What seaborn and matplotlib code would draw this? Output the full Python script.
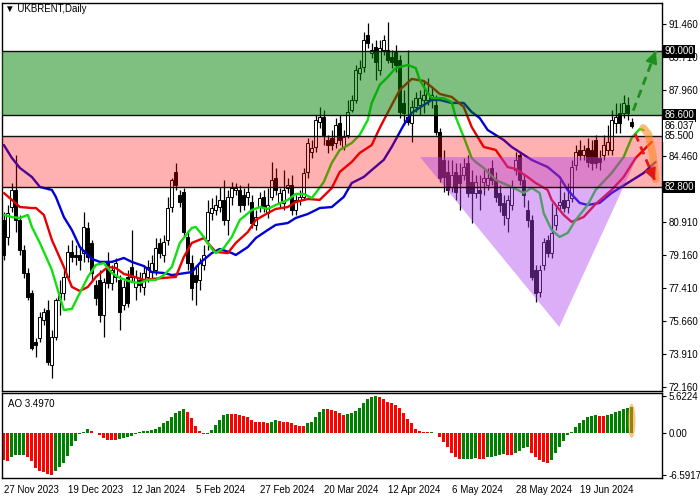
import numpy as np
import pandas as pd
import matplotlib
matplotlib.use("Agg")
import matplotlib.pyplot as plt
from matplotlib.patches import Ellipse
import seaborn as sns

# ---------------- data ----------------
open_p = [81.03,80.13,81.72,82.63,81.03,79.43,78.21,77.15,74.54,74.75,
 75.71,76.24,73.31,74.80,76.77,77.15,78.00,79.33,79.17,79.17,
 79.27,80.61,79.81,77.57,77.84,75.98,78.80,77.68,78.00,77.84,
 76.51,78.00,78.53,77.47,77.84,77.47,78.00,78.27,78.37,79.81,
 79.17,79.97,81.72,83.59,82.36,82.52,80.13,78.74,78.11,77.84,
 78.64,79.97,81.40,81.56,81.72,82.10,81.03,82.26,82.63,82.63,
 82.36,82.26,81.99,80.77,81.72,82.26,81.40,82.26,83.27,81.99,
 81.94,82.74,82.90,81.56,82.10,82.26,83.59,84.65,84.92,86.25,
 86.51,85.29,85.40,85.13,86.20,84.92,85.56,86.89,87.42,88.86,
 89.17,90.88,89.92,90.24,89.01,90.08,90.08,89.71,89.97,89.55,
 87.26,86.51,86.20,87.05,87.15,87.42,87.42,87.42,87.15,85.72,
 84.23,83.59,82.79,83.59,83.43,83.43,84.07,83.05,82.47,82.63,
 83.05,82.90,83.80,83.16,82.47,81.94,81.14,81.83,83.69,84.49,
 83.16,81.56,81.03,78.37,77.20,78.64,79.97,79.27,80.77,81.83,
 82.10,81.72,82.20,83.96,84.76,84.49,84.86,84.76,85.29,84.33,
 84.49,84.76,84.76,86.20,86.73,86.73,87.15,86.25]
high_p = [81.46,81.83,83.00,84.49,81.30,79.70,78.48,77.31,74.75,76.14,
 76.35,76.77,75.18,76.88,77.84,78.37,79.70,79.97,79.70,79.54,
 81.46,80.93,79.97,77.84,78.37,77.95,79.33,78.64,79.01,78.11,
 77.84,78.37,80.50,78.37,78.27,78.64,78.90,79.17,80.07,80.07,
 80.23,82.26,83.27,84.07,82.63,82.74,80.50,79.17,78.64,79.01,
 79.70,82.10,82.20,82.36,82.79,83.16,82.63,83.05,83.00,82.90,
 82.74,83.00,82.36,81.56,82.52,82.63,82.74,84.12,83.80,82.74,
 83.69,83.27,83.43,82.36,82.63,83.80,85.39,85.29,86.62,87.05,
 86.89,85.56,85.82,86.46,86.62,85.82,87.42,87.68,89.28,89.55,
 91.04,91.52,90.45,90.61,90.61,90.88,91.57,90.08,90.35,89.81,
 87.95,90.08,87.42,87.84,87.95,88.48,88.59,88.06,87.68,85.93,
 84.76,84.23,84.23,84.07,84.07,84.33,84.49,83.69,83.43,83.43,
 83.69,83.80,84.23,83.59,82.90,82.36,82.36,83.16,84.65,84.65,
 83.43,82.10,81.30,78.64,78.64,80.07,80.23,81.94,81.83,83.16,
 82.52,83.00,84.23,85.02,85.29,85.02,85.40,85.29,85.56,84.76,
 85.56,86.09,86.89,87.26,87.26,87.68,87.58,86.46]
low_p = [78.90,79.70,81.46,80.39,79.17,77.95,76.77,74.11,73.74,74.54,
 75.44,73.31,72.62,74.65,76.00,76.77,77.84,78.80,78.64,78.37,
 78.80,78.80,77.84,76.51,75.60,74.80,77.41,77.31,77.73,75.18,
 76.24,76.40,77.73,76.77,77.20,77.04,77.73,77.95,78.11,79.01,
 78.80,79.70,81.46,82.63,81.72,80.18,78.37,76.77,76.51,77.31,
 78.37,79.43,81.03,81.30,81.46,80.77,80.23,81.83,82.36,81.46,
 81.56,81.83,80.61,80.50,81.46,81.46,81.14,82.10,82.36,81.72,
 81.56,82.47,81.30,81.30,81.83,82.10,83.27,84.33,84.65,85.93,
 85.02,84.60,84.76,84.86,85.02,84.76,85.40,86.78,87.26,88.48,
 88.91,90.19,89.65,88.48,88.75,89.81,89.39,89.12,88.91,86.46,
 86.09,86.09,85.18,86.78,86.62,86.73,87.15,86.99,85.56,83.05,
 82.52,82.36,82.52,82.10,81.56,83.16,82.26,80.87,82.20,81.56,
 82.36,82.63,82.90,81.99,81.46,80.77,80.39,81.56,83.43,82.90,
 81.72,80.66,77.84,76.67,76.93,78.37,79.06,79.01,80.50,81.56,
 81.46,81.40,81.99,83.69,84.23,84.23,83.85,83.69,83.80,83.69,
 84.23,84.49,84.49,85.66,85.66,86.46,86.35,85.93]
close_p = [79.17,81.40,82.63,81.03,79.43,78.21,76.93,74.22,74.38,75.87,
 76.14,73.47,74.80,76.77,77.15,78.00,79.33,79.06,79.06,78.90,
 80.66,79.06,78.21,76.88,75.98,77.73,77.68,78.37,78.74,76.14,
 77.47,76.61,78.00,78.00,77.57,78.21,78.53,78.74,79.54,79.27,
 79.86,81.67,83.16,82.90,81.99,80.39,78.74,77.41,77.73,78.74,
 79.17,81.46,81.67,81.83,82.10,81.03,82.26,82.74,82.74,81.83,
 81.83,82.52,80.87,81.19,82.20,81.72,81.83,83.16,82.63,82.47,
 82.63,82.90,81.56,82.10,82.26,83.53,85.13,84.86,86.35,86.51,
 85.56,85.02,85.02,86.09,85.29,85.45,86.78,87.42,89.01,89.12,
 90.61,90.45,90.08,89.44,90.19,90.61,89.55,89.44,89.28,86.78,
 86.73,86.25,87.05,87.52,87.52,87.68,87.79,87.68,85.72,83.27,
 83.32,82.63,83.43,82.52,83.00,83.85,82.47,82.47,83.05,82.47,
 83.27,83.27,83.16,82.26,81.83,81.30,82.10,82.79,84.23,83.16,
 82.36,81.03,78.00,77.15,78.37,79.86,79.27,80.34,81.30,81.99,
 81.67,82.10,83.85,84.65,84.49,84.76,84.12,84.07,84.07,84.12,
 85.02,85.18,86.35,86.51,86.20,87.26,86.73,86.04]

jaw_bar = [0,2,4,7,9,12,13,15,17,19,22,24,27,30,32,35,37,40,42,47,49,52,54,57,58,
           61,63,66,68,71,73,76,78,79,82,85,87,90,92,95,97,100,102,105,107,109,112,
           115,117,119,121,125,127,132,136,139,141,144,146,149,152,156,160,163]
jaw_val = [85.02,84.33,83.80,83.32,82.79,82.63,82.26,81.19,80.50,79.59,78.96,78.80,
           78.80,79.01,78.80,78.58,78.26,78.21,78.10,78.26,78.74,79.27,79.49,79.27,
           79.17,79.59,80.07,80.50,80.77,80.87,81.14,81.35,81.56,81.67,81.72,82.26,
           83.00,83.32,83.69,84.23,84.92,86.09,86.73,87.15,87.42,87.42,87.26,87.26,
           86.78,86.46,85.82,85.29,84.92,84.23,83.85,83.32,82.63,81.94,81.83,81.94,
           82.47,83.00,83.53,84.12]
teeth_bar = [0,2,4,7,8,10,12,15,17,19,21,23,26,28,30,32,35,37,40,43,45,47,50,51,53,
             56,58,61,63,66,68,71,73,76,79,82,84,87,89,92,94,97,99,102,105,107,109,
             112,115,117,120,123,126,128,131,133,136,137,140,142,145,148,152,155,158,162]
teeth_val = [82.47,82.10,81.72,81.67,81.67,81.30,79.97,78.53,77.47,77.25,77.47,78.00,
             78.53,78.48,78.16,78.05,77.84,77.89,77.95,78.00,79.06,79.81,80.07,79.81,
             79.33,79.27,79.81,80.39,81.03,81.40,81.62,81.72,81.99,82.15,82.10,82.73,
             83.59,84.12,84.60,85.02,85.93,87.15,87.95,88.54,88.43,88.11,87.74,87.58,
             87.05,85.98,84.92,84.76,83.85,83.75,83.32,83.00,82.63,82.10,81.30,80.93,
             81.19,81.88,82.63,83.32,84.33,85.18]
lips_bar = [0,2,4,6,7,9,12,14,15,17,19,21,23,25,27,29,32,34,36,38,40,42,44,47,48,
            50,52,53,55,57,59,62,64,66,68,71,73,75,77,78,80,82,84,87,89,91,92,94,96,
            98,101,103,104,106,107,110,112,113,115,117,118,120,123,127,130,132,134,
            135,137,139,141,143,146,148,152,155,157,159,160]
lips_val = [81.30,81.19,81.14,81.30,80.66,79.81,78.37,76.93,76.24,76.30,77.15,78.00,
            78.64,78.74,78.21,77.95,77.73,77.68,77.84,77.84,78.10,78.53,79.81,80.61,
            80.66,80.13,79.49,79.27,79.54,80.13,81.03,81.56,81.72,81.62,81.83,82.10,
            82.42,82.42,82.20,82.47,83.05,84.07,84.76,85.13,85.56,86.35,87.26,88.22,
            88.64,89.12,89.28,89.12,88.48,87.79,87.52,87.52,87.31,86.51,85.45,84.33,
            84.12,83.80,83.16,82.79,82.47,82.74,82.47,81.40,80.50,80.13,80.34,81.03,
            81.83,82.63,83.53,84.38,85.40,85.87,85.82]

ao_val = [-4.24,-4.34,-3.83,-3.50,-3.47,-3.45,-3.72,-4.34,-5.52,-5.88,
 -6.14,-6.39,-6.59,-5.88,-5.37,-4.75,-3.57,-2.03,-1.26,-0.23,
 0.13,0.49,0.28,-0.13,-0.39,-0.90,-1.16,-1.17,-1.18,-1.00,
 -0.80,-0.74,-0.49,-0.28,0.13,0.23,0.28,0.39,0.54,0.90,
 1.52,1.82,2.44,3.06,3.36,3.57,3.11,2.18,1.05,0.28,
 -0.28,-0.23,0.39,1.16,1.93,2.70,2.85,2.84,2.80,2.65,
 2.59,2.44,1.93,1.67,1.62,1.57,1.52,1.67,1.93,1.77,
 1.67,1.57,1.52,1.16,1.05,1.00,1.41,1.67,2.44,3.20,
 3.60,3.55,3.45,3.30,2.95,2.70,2.85,2.95,3.36,3.72,
 4.49,5.16,5.52,5.6224,5.42,5.16,4.75,4.49,4.24,3.72,
 2.95,2.08,1.41,0.49,0.23,0.13,0.08,0.13,-0.13,-0.64,
 -1.41,-2.18,-3.21,-3.83,-4.08,-4.06,-4.04,-4.02,-4.00,-4.05,
 -4.13,-3.83,-3.72,-3.62,-3.47,-3.31,-3.40,-3.47,-3.11,-2.80,
 -2.44,-2.18,-3.21,-3.72,-4.24,-4.49,-4.65,-4.24,-3.21,-2.18,
 -1.26,-0.39,0.13,0.80,1.41,1.93,2.34,2.54,2.70,2.60,
 2.54,2.70,2.85,3.11,3.31,3.57,3.72,3.95]

date_bar = [0, 16, 32, 48, 64, 80, 96, 112, 128, 144]
date_labels = ["27 Nov 2023", "19 Dec 2023", "12 Jan 2024", "5 Feb 2024", "27 Feb 2024",
               "20 Mar 2024", "12 Apr 2024", "6 May 2024", "28 May 2024", "19 Jun 2024"]
price_ticks = [91.46, 89.71, 87.96, 84.46, 80.91, 79.16, 77.41, 75.66, 73.91, 72.16]
ao_ticks = [5.6224, 0.0, -6.5917]
ao_tick_labels = ["5.6224", "0.00", "-6.5917"]

green_zone = (86.6, 90.0)
pink_zone = (82.8, 85.5)
current_price = 86.037
tri_bar = [104.1, 158.4, 138.9]
tri_price = [84.38, 84.38, 75.34]
up_arrow_bar = [157.4, 163.3]
up_arrow_price = [86.85, 90.15]
down_arrow_bar = [157.9, 163.1]
down_arrow_price = [85.62, 83.0]
orange_bar = [159.9, 161.2, 162.3, 163.0]
orange_price = [85.93, 85.6, 84.5, 83.2]

# ---------------- style ----------------
sns.set_style("white")
plt.rcParams["font.family"] = ["Liberation Sans", "DejaVu Sans"]
FS = 7

fig = plt.figure(figsize=(7, 5), dpi=100)
ax = fig.add_axes([1.5 / 700, 1 - 391 / 500, 660.5 / 700, 388 / 500])
ax2 = fig.add_axes([1.5 / 700, 1 - 478 / 500, 660.5 / 700, 85 / 500])

# ---------------- candles ----------------
idx = np.arange(len(close_p))
o = np.array(open_p); c = np.array(close_p)
up = c >= o
ax.vlines(idx, low_p, high_p, color="black", lw=0.9, zorder=2)
body_lo = np.minimum(o, c)
body_h = np.maximum(np.abs(c - o), 0.04)
ax.bar(idx, body_h, bottom=body_lo, width=0.7,
       color=np.where(up, "white", "black"), edgecolor="black", linewidth=0.7, zorder=2.2)

# ---------------- alligator lines (seaborn) ----------------
ma_df = pd.concat([
    pd.DataFrame({"bar": jaw_bar, "price": jaw_val, "line": "jaw"}),
    pd.DataFrame({"bar": teeth_bar, "price": teeth_val, "line": "teeth"}),
    pd.DataFrame({"bar": lips_bar, "price": lips_val, "line": "lips"}),
], ignore_index=True)
sns.lineplot(data=ma_df, x="bar", y="price", hue="line",
             palette={"jaw": "#0000D8", "teeth": "#E80000", "lips": "#10E010"},
             linewidth=1.7, legend=False, ax=ax, estimator=None, sort=True)
for ln in ax.lines:
    ln.set_zorder(3)
    ln.set_solid_joinstyle("round")

# ---------------- zones / shapes ----------------
ax.axhspan(*green_zone, color=(0.0, 0.5, 0.0), alpha=0.5, lw=0, zorder=4)
ax.axhspan(*pink_zone, color=(1.0, 0.0, 0.0), alpha=0.31, lw=0, zorder=4)
ax.fill(tri_bar, tri_price, color=(0.68, 0.25, 0.93), alpha=0.42, lw=0, zorder=5)
for lvl in list(green_zone) + list(pink_zone):
    ax.axhline(lvl, color="#101010", lw=1.0, zorder=6)

# arrows
def dashed_arrow(xs, ys, col):
    ax.plot(xs, ys, ls=(0, (3, 2)), lw=2.0, color=col, zorder=7)
    x0 = xs[1] - (xs[1] - xs[0]) * 0.25
    y0 = ys[1] - (ys[1] - ys[0]) * 0.25
    ax.annotate("", xy=(xs[1], ys[1]), xytext=(x0, y0),
                arrowprops=dict(arrowstyle="-|>,head_width=0.35,head_length=0.7",
                                color=col, lw=1.5), zorder=8)

ax.plot(orange_bar, orange_price, color="#FF8A20", lw=5.5, alpha=0.6,
        solid_capstyle="round", zorder=7)
dashed_arrow(up_arrow_bar, up_arrow_price, "#1E8E1E")
dashed_arrow(down_arrow_bar, down_arrow_price, "#E01818")

# ---------------- axes formatting (main) ----------------
ax.set_xlim(-0.6, 164.6)
ax.set_ylim(71.93, 92.58)
ax.set_xticks([])
ax.yaxis.tick_right()
ax.set_yticks(price_ticks)
ax.set_yticklabels([f"{v:.3f}" for v in price_ticks])
ax.tick_params(axis="y", direction="out", length=3, width=0.8, pad=1.5,
               labelsize=FS, colors="black")
ax.set_xlabel(""); ax.set_ylabel("")
for s in ax.spines.values():
    s.set_color("black"); s.set_linewidth(1.0)

ytr = ax.get_yaxis_transform()
special = [(90.0, "black", "white"), (86.6, "black", "white"),
           (current_price, "white", "black"), (85.5, "white", "black"),
           (82.8, "black", "white")]
for val, bg, fg in special:
    ax.text(1.004, val, f"{val:.3f}", transform=ytr, ha="left", va="center",
            fontsize=FS, color=fg, clip_on=False, zorder=10,
            bbox=dict(boxstyle="square,pad=0.12", fc=bg, ec="none"))

ax.text(0.005, 0.985, "\u25BC UKBRENT,Daily", transform=ax.transAxes, ha="left",
        va="center", fontsize=FS, color="black", zorder=10)

# ---------------- AO panel ----------------
ao = np.array(ao_val)
ao_cols = ["#FF0000"] + ["#008000" if ao[k] >= ao[k - 1] else "#FF0000"
                         for k in range(1, len(ao))]
ax2.bar(idx, ao, width=0.75, color=ao_cols, lw=0, zorder=2)
ax2.add_patch(Ellipse((idx[-1], 1.8), width=1.9, height=5.3, color="#FF9020",
                      alpha=0.55, lw=0, zorder=3))
ax2.set_xlim(-0.6, 164.6)
ax2.set_ylim(-7.01, 6.09)
ax2.yaxis.tick_right()
ax2.set_yticks(ao_ticks)
ax2.set_yticklabels(ao_tick_labels)
ax2.set_xticks(date_bar)
ax2.set_xticklabels(date_labels)
for lab in ax2.get_xticklabels():
    lab.set_ha("left")
ax2.tick_params(axis="both", direction="out", length=3, width=0.8, pad=1.5,
                labelsize=FS, colors="black")
ax2.tick_params(axis="x", pad=2)
ax2.set_xlabel(""); ax2.set_ylabel("")
for s in ax2.spines.values():
    s.set_color("black"); s.set_linewidth(1.0)
ax2.text(0.01, 0.87, "AO 3.4970", transform=ax2.transAxes, ha="left", va="center",
         fontsize=FS, color="black")

fig.savefig("out.png", dpi=100, facecolor="white")
